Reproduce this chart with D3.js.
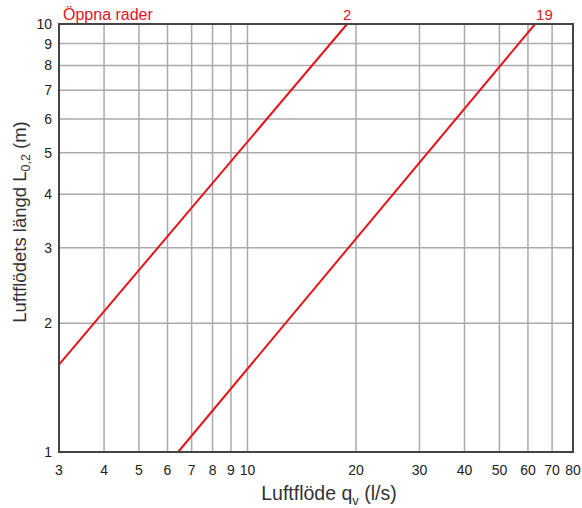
<!DOCTYPE html>
<html><head><meta charset="utf-8">
<script src="https://cdn.jsdelivr.net/npm/d3@7"></script>
<style>body{margin:0;background:#fff}svg{display:block;font-family:"Liberation Sans",Arial,sans-serif}</style>
</head><body><svg id="c" width="582" height="508"></svg>
<script>
const xTicks = [3,4,5,6,7,8,9,10,20,30,40,50,60,70,80];
const xGrid = [4,5,6,7,8,9,10,20,30,40,50,60,70];
const yTicks = [1,2,3,4,5,6,7,8,9,10];
const seriesNames = ["2","19"];
const series2 = [[3,1.6],[18.9,10]];
const series19 = [[6.42,1],[62.8,10]];
const legendTitle = "Öppna rader";

const svg = d3.select("#c");
const L = 59, R = 573, T = 24, B = 452;
const x = d3.scaleLog().domain([3,80]).range([L,R]);
const y = d3.scaleLog().domain([1,10]).range([B,T]);
const red = "#e3141c", grid = "#aaaaaa";

const g = svg.append("g");
g.selectAll(".vg").data(xGrid).enter().append("line")
  .attr("x1",d=>x(d)).attr("x2",d=>x(d)).attr("y1",T).attr("y2",B)
  .attr("stroke",grid).attr("stroke-width",1.5);
g.selectAll(".hg").data(yTicks.slice(1,-1)).enter().append("line")
  .attr("y1",d=>y(d)).attr("y2",d=>y(d)).attr("x1",L).attr("x2",R)
  .attr("stroke",grid).attr("stroke-width",1.5);

const line = d3.line().x(d=>x(d[0])).y(d=>y(d[1]));
[series2, series19].forEach(s=>{
  g.append("path").attr("d",line(s)).attr("fill","none").attr("stroke",red).attr("stroke-width",2);
});

g.append("rect").attr("x",L).attr("y",T).attr("width",R-L).attr("height",B-T)
  .attr("fill","none").attr("stroke","#444").attr("stroke-width",2);

svg.selectAll(".xt").data(xTicks).enter().append("text")
  .attr("x",d=>x(d)).attr("y",475).attr("text-anchor","middle")
  .attr("font-size",14).attr("fill","#222").text(d=>d);
svg.selectAll(".yt").data(yTicks).enter().append("text")
  .attr("x",52).attr("y",d=>y(d)+5).attr("text-anchor","end")
  .attr("font-size",14).attr("fill","#222").text(d=>d);

svg.append("text").attr("x",63).attr("y",20).attr("font-size",16).attr("fill",red).text(legendTitle);
svg.append("text").attr("x",x(series2[1][0])).attr("y",20).attr("text-anchor","middle")
  .attr("font-size",15).attr("fill",red).text(seriesNames[0]);
svg.append("text").attr("x",x(series19[1][0])+1).attr("y",20).attr("text-anchor","start")
  .attr("font-size",15).attr("fill",red).text(seriesNames[1]);

const xt = svg.append("text").attr("x",329).attr("y",500).attr("text-anchor","middle")
  .attr("font-size",19.5).attr("fill","#333");
xt.append("tspan").text("Luftflöde q");
xt.append("tspan").attr("font-size",13).attr("dy",5).text("v");
xt.append("tspan").attr("dy",-5).text(" (l/s)");

const yt = svg.append("text").attr("transform","translate(26,222) rotate(-90)").attr("text-anchor","middle")
  .attr("font-size",18.5).attr("fill","#333");
yt.append("tspan").text("Luftflödets längd L");
yt.append("tspan").attr("font-size",12.5).attr("dy",4).text("0,2");
yt.append("tspan").attr("dy",-4).text(" (m)");
</script></body></html>
